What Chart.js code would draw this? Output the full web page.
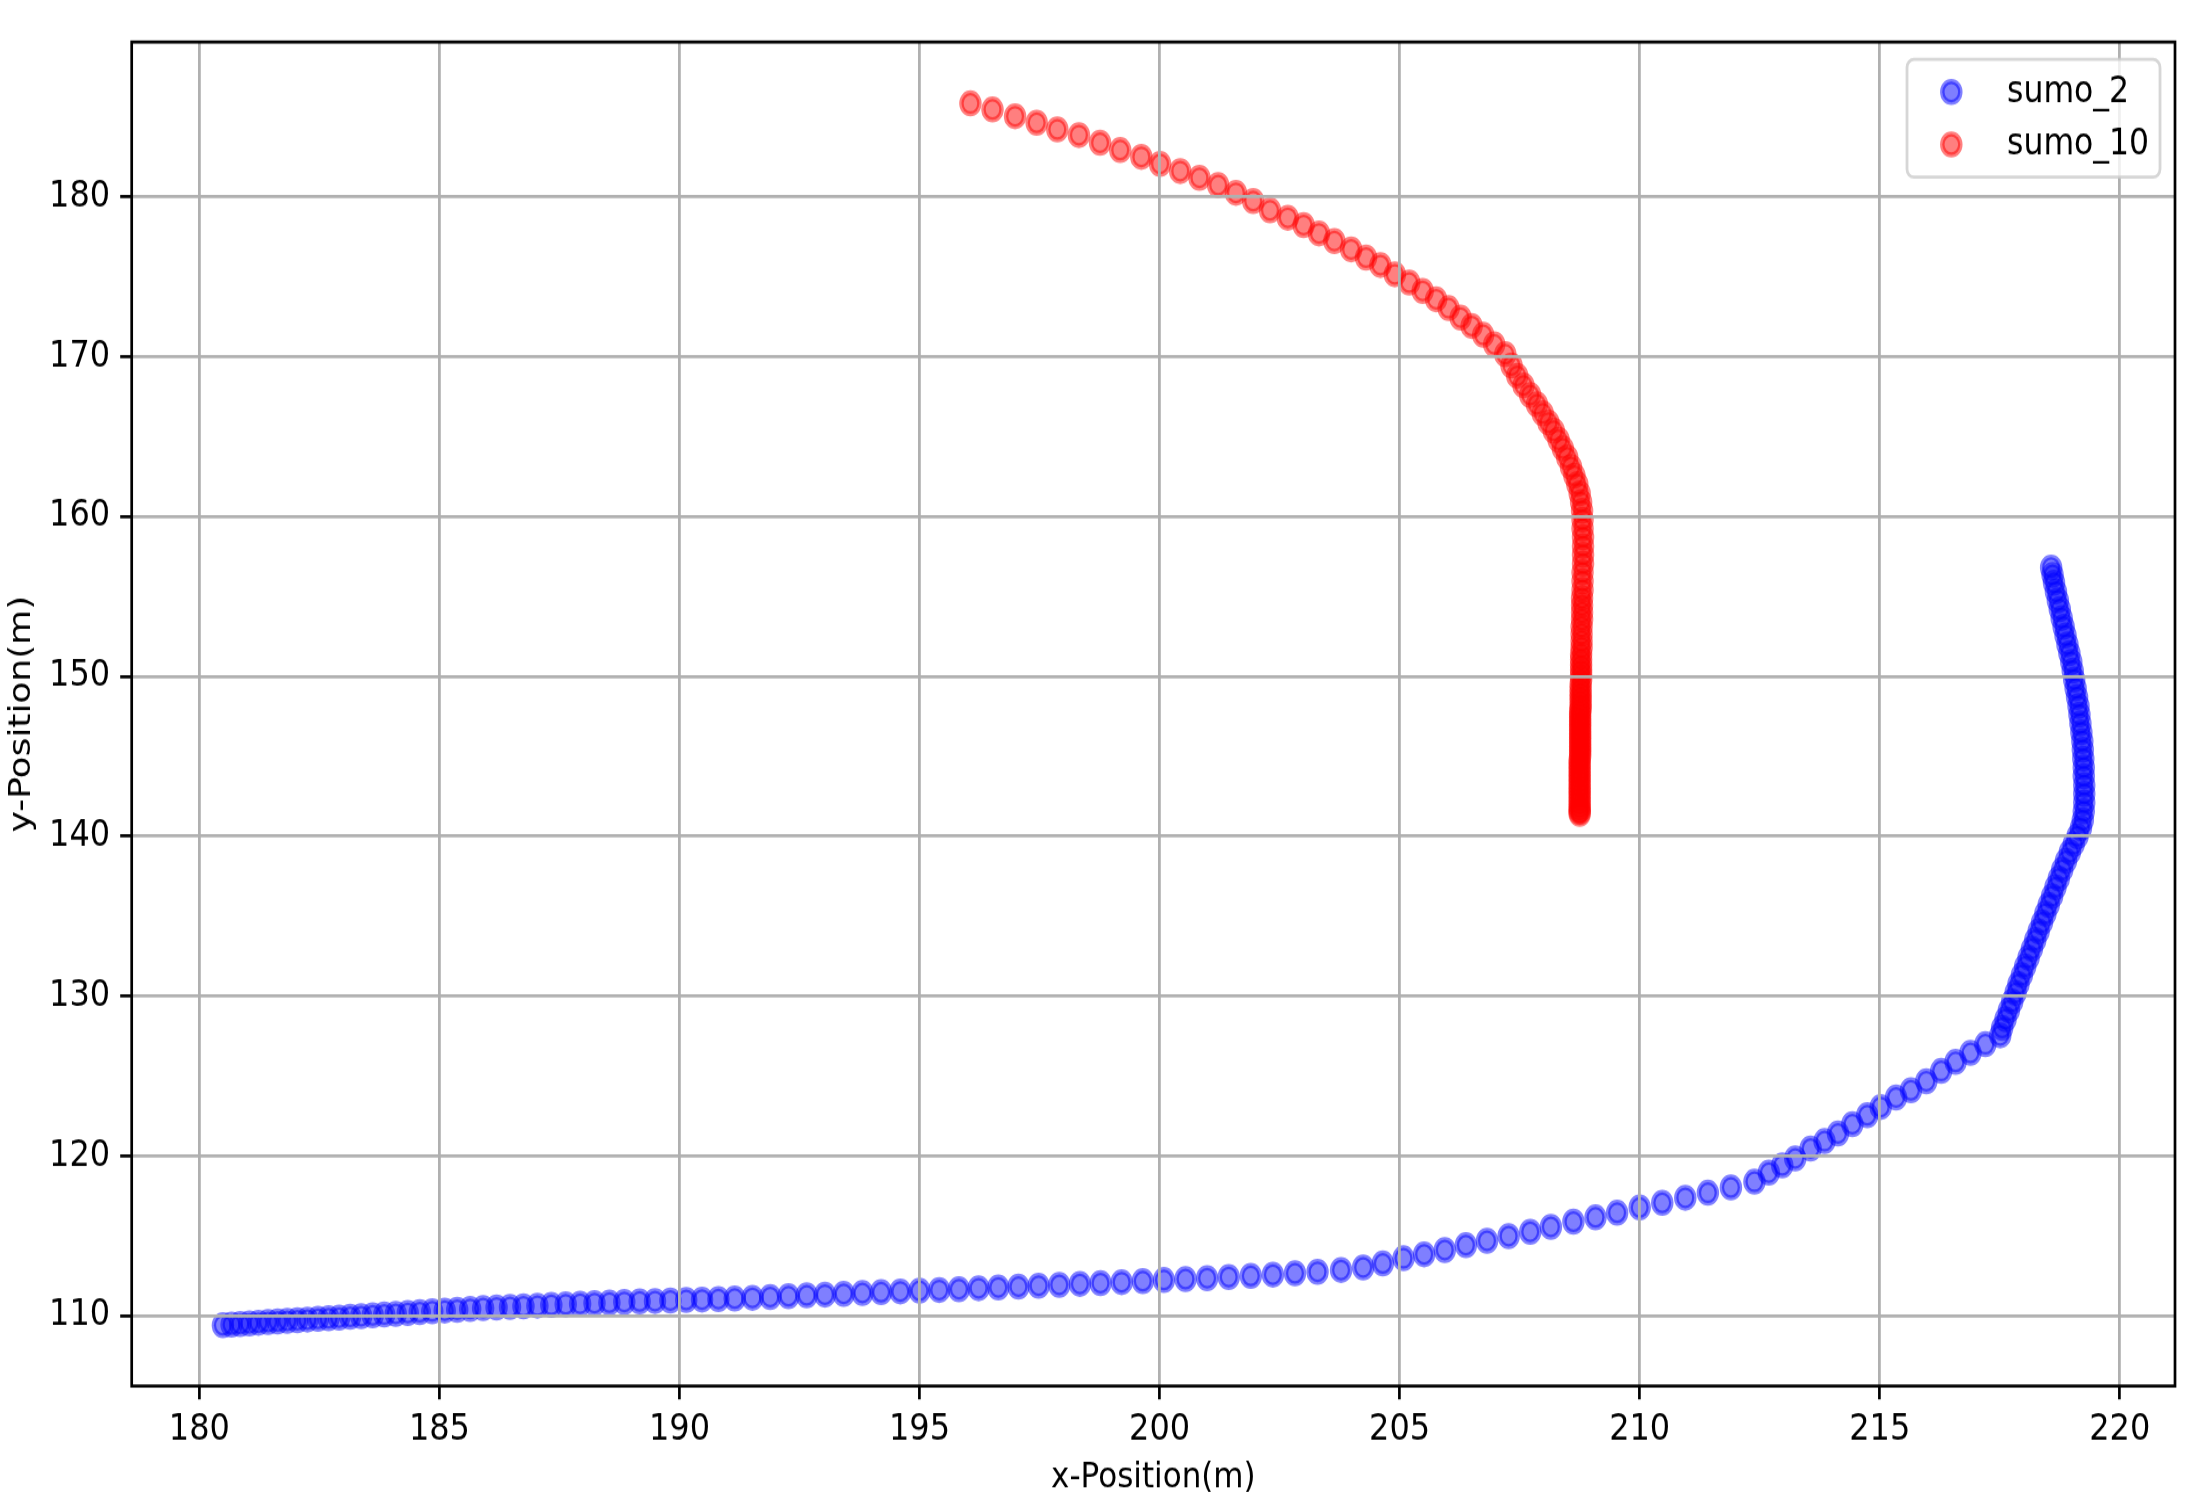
<!DOCTYPE html>
<html>
<head>
<meta charset="utf-8">
<script src="https://cdn.jsdelivr.net/npm/chart.js@4.4.0/dist/chart.umd.min.js"></script>
<style>
  html, body { margin: 0; padding: 0; background: #fff; width: 2190px; height: 1507px; overflow: hidden; }
  /* the reference figure is stretched vertically, so the chart is drawn shorter and scaled up */
  #wrap { width: 2190px; height: 1299px; transform: scaleY(1.16012); transform-origin: 0 0; }
</style>
</head>
<body>
<div id="wrap"><canvas id="myChart"></canvas></div>
<script>
const seriesNames = ['sumo_2', 'sumo_10'];

const sumo2X = [
  180.49, 180.67, 180.85, 181.04, 181.23, 181.43, 181.63, 181.83, 182.04, 182.25,
  182.47, 182.69, 182.91, 183.14, 183.37, 183.61, 183.85, 184.09, 184.34, 184.59,
  184.85, 185.11, 185.37, 185.64, 185.91, 186.19, 186.47, 186.75, 187.04, 187.33,
  187.63, 187.93, 188.23, 188.54, 188.85, 189.17, 189.49, 189.81, 190.14, 190.47,
  190.81, 191.15,
  191.52, 191.89, 192.27, 192.65, 193.03, 193.42, 193.81, 194.20, 194.60, 195.00,
  195.41, 195.82, 196.23, 196.64, 197.06, 197.48, 197.91, 198.34, 198.77, 199.21,
  199.65, 200.09, 200.54, 200.99, 201.44, 201.90, 202.36, 202.82, 203.29,
  203.78, 204.24, 204.65, 205.08, 205.51, 205.94, 206.38, 206.82, 207.27, 207.72,
  208.15, 208.62, 209.08, 209.53, 210.00, 210.47, 210.95, 211.42, 211.90, 212.39,
  212.69, 212.97, 213.24,
  213.56, 213.85, 214.13, 214.43, 214.74, 215.02, 215.34, 215.65, 215.97, 216.28,
  216.58, 216.89, 217.20, 217.51,
  217.55, 217.62, 217.69, 217.76, 217.83, 217.89, 217.96, 218.03, 218.10, 218.17,
  218.24, 218.31, 218.38, 218.45, 218.52, 218.59, 218.66, 218.73, 218.80, 218.88,
  218.96, 219.04, 219.12, 219.19,
  219.23, 219.25, 219.26, 219.26, 219.26, 219.25, 219.25, 219.24, 219.23, 219.22,
  219.20, 219.18, 219.16, 219.14, 219.11, 219.08, 219.05, 219.02, 218.99, 218.95,
  218.91, 218.87, 218.83, 218.79, 218.75, 218.71, 218.67, 218.63, 218.60, 218.57
];
const sumo2Y = [
  109.40, 109.44, 109.48, 109.52, 109.56, 109.60, 109.64, 109.68, 109.72, 109.76,
  109.80, 109.84, 109.88, 109.93, 109.97, 110.02, 110.07, 110.12, 110.17, 110.22,
  110.27, 110.32, 110.37, 110.42, 110.47, 110.51, 110.55, 110.59, 110.63, 110.67,
  110.71, 110.75, 110.79, 110.82, 110.86, 110.89, 110.92, 110.95, 110.98, 111.01,
  111.04, 111.07,
  111.12, 111.17, 111.22, 111.27, 111.32, 111.37, 111.42, 111.47, 111.52, 111.56,
  111.61, 111.66, 111.72, 111.77, 111.82, 111.88, 111.93, 111.99, 112.04, 112.10,
  112.16, 112.23, 112.29, 112.35, 112.42, 112.49, 112.57, 112.65, 112.75,
  112.86, 113.02, 113.27, 113.59, 113.84, 114.11, 114.42, 114.69, 114.98, 115.25,
  115.56, 115.88, 116.15, 116.44, 116.77, 117.06, 117.38, 117.69, 118.02, 118.38,
  118.95, 119.40, 119.84,
  120.46, 120.92, 121.40, 121.98, 122.54, 123.06, 123.65, 124.10, 124.67, 125.31,
  125.88, 126.44, 126.98, 127.54,
  128.00, 128.55, 129.10, 129.65, 130.20, 130.75, 131.30, 131.85, 132.40, 132.95,
  133.50, 134.05, 134.60, 135.15, 135.70, 136.25, 136.80, 137.35, 137.90, 138.45,
  139.00, 139.50, 140.00, 140.50,
  141.00, 141.55, 142.10, 142.65, 143.20, 143.75, 144.30, 144.85, 145.40, 145.95,
  146.50, 147.05, 147.60, 148.15, 148.70, 149.25, 149.80, 150.35, 150.90, 151.45,
  152.00, 152.55, 153.10, 153.65, 154.20, 154.75, 155.30, 155.85, 156.35, 156.80
];

const sumo10X = [
  196.06, 196.52, 196.99, 197.44, 197.87, 198.32, 198.76, 199.18, 199.62, 200.01,
  200.43, 200.83, 201.22, 201.59, 201.95, 202.30, 202.67, 203.00, 203.32, 203.64,
  203.99, 204.30, 204.60, 204.90, 205.20, 205.48, 205.76, 206.02, 206.27, 206.50,
  206.74, 206.97, 207.20,
  207.33, 207.45, 207.58, 207.72, 207.86, 207.98, 208.10, 208.21, 208.31, 208.40,
  208.49, 208.57, 208.64, 208.70, 208.75, 208.78, 208.80,
  208.81, 208.81, 208.82, 208.82, 208.82, 208.82, 208.81, 208.81, 208.81, 208.80,
  208.80, 208.80, 208.80, 208.79, 208.79, 208.79, 208.79, 208.78, 208.78, 208.78,
  208.78, 208.78, 208.78, 208.77, 208.77, 208.77, 208.77, 208.77, 208.77, 208.77,
  208.76, 208.76, 208.76, 208.76, 208.76, 208.76, 208.76, 208.76, 208.76, 208.76,
  208.76, 208.76, 208.76, 208.76, 208.76, 208.75, 208.75, 208.75, 208.75, 208.75,
  208.75, 208.75, 208.75, 208.75, 208.75, 208.75, 208.75, 208.75, 208.75, 208.75,
  208.75, 208.75, 208.75, 208.75
];
const sumo10Y = [
  185.84, 185.46, 185.04, 184.63, 184.21, 183.86, 183.38, 182.92, 182.50, 182.06,
  181.61, 181.19, 180.73, 180.25, 179.73, 179.15, 178.69, 178.23, 177.71, 177.23,
  176.71, 176.19, 175.73, 175.15, 174.63, 174.11, 173.59, 173.03, 172.44, 171.92,
  171.36, 170.77, 170.15,
  169.45, 168.80, 168.20, 167.60, 167.02, 166.45, 165.88, 165.36, 164.80, 164.25,
  163.69, 163.10, 162.55, 162.02, 161.45, 160.90, 160.36,
  159.80, 159.25, 158.70, 158.15, 157.60, 157.05, 156.50, 155.95, 155.40, 154.90,
  154.45, 154.00, 153.55, 153.10, 152.65, 152.20, 151.80, 151.40, 151.05, 150.70,
  150.40, 150.10, 149.80, 149.50, 149.20, 148.95, 148.70, 148.45, 148.20, 148.00,
  147.80, 147.60, 147.40, 147.20, 147.00, 146.80, 146.60, 146.40, 146.20, 146.00,
  145.80, 145.60, 145.40, 145.20, 145.00, 144.80, 144.60, 144.40, 144.20, 144.00,
  143.80, 143.60, 143.40, 143.20, 143.00, 142.80, 142.60, 142.40, 142.20, 142.00,
  141.80, 141.65, 141.50, 141.40
];

const xTicks = [180, 185, 190, 195, 200, 205, 210, 215, 220];
const yTicks = [110, 120, 130, 140, 150, 160, 170, 180];

Chart.defaults.font.family = "'DejaVu Sans'";
Chart.defaults.font.size = 32;
Chart.defaults.color = '#000';

// matplotlib-like frame around the plot area
const axesFrame = {
  id: 'axesFrame',
  afterDraw(chart) {
    const { ctx, chartArea: a } = chart;
    ctx.save();
    ctx.lineWidth = 2.7;
    ctx.strokeStyle = '#000';
    ctx.strokeRect(a.left, a.top, a.right - a.left, a.bottom - a.top);
    ctx.restore();
  }
};

// legend box in the upper right corner of the plot area
const boxLegend = {
  id: 'boxLegend',
  afterDraw(chart) {
    const { ctx, chartArea: a } = chart;
    const w = 253, h = 101.5;
    const left = a.right - 15 - w, top = a.top + 15;
    ctx.save();
    ctx.beginPath();
    ctx.roundRect(left, top, w, h, 7);
    ctx.fillStyle = 'rgba(255,255,255,0.8)';
    ctx.fill();
    ctx.lineWidth = 2.8;
    ctx.strokeStyle = 'rgba(204,204,204,0.8)';
    ctx.stroke();
    chart.data.datasets.forEach((ds, i) => {
      const cy = top + 28 + i * 45.35;
      ctx.beginPath();
      ctx.arc(left + 44.3, cy, ds.pointRadius, 0, Math.PI * 2);
      ctx.fillStyle = ds.pointBackgroundColor;
      ctx.fill();
      ctx.lineWidth = ds.pointBorderWidth;
      ctx.strokeStyle = ds.pointBorderColor;
      ctx.stroke();
      ctx.fillStyle = '#000';
      ctx.font = "31.5px 'DejaVu Sans'";
      ctx.textBaseline = 'alphabetic';
      ctx.textAlign = 'left';
      ctx.fillText(ds.label, left + 100, cy + 8.7);
    });
    ctx.restore();
  }
};

const gridStyle = {
  color: '#b0b0b0',
  lineWidth: 2.8,
  tickColor: '#000',
  tickWidth: 2.7,
  tickLength: 11.5,
  z: 1
};

new Chart(document.getElementById('myChart').getContext('2d'), {
  type: 'scatter',
  data: {
    datasets: [{
      label: seriesNames[0],
      data: sumo2X.map((x, i) => ({ x: x, y: sumo2Y[i] })),
      pointRadius: 9,
      pointBorderWidth: 4.5,
      pointBackgroundColor: 'rgba(0,0,255,0.5)',
      pointBorderColor: 'rgba(0,0,255,0.5)'
    }, {
      label: seriesNames[1],
      data: sumo10X.map((x, i) => ({ x: x, y: sumo10Y[i] })),
      pointRadius: 9,
      pointBorderWidth: 4.5,
      pointBackgroundColor: 'rgba(255,0,0,0.5)',
      pointBorderColor: 'rgba(255,0,0,0.5)'
    }]
  },
  options: {
    responsive: true,
    maintainAspectRatio: false,
    animation: false,
    events: [],
    layout: { padding: { top: 36.2, right: 15, left: 0, bottom: 0 } },
    plugins: {
      legend: { display: false },
      tooltip: { enabled: false }
    },
    scales: {
      x: {
        type: 'linear',
        min: 178.59,
        max: 221.15,
        afterBuildTicks: (scale) => { scale.ticks = xTicks.map(v => ({ value: v })); },
        afterFit: (scale) => { scale.height = 104.3; },
        ticks: { padding: 6.8, maxRotation: 0, includeBounds: false, font: { lineHeight: 1.2 } },
        grid: gridStyle,
        border: { display: false },
        title: { display: true, text: 'x-Position(m)', padding: { top: 0, bottom: 6.6 }, font: { size: 31, lineHeight: 1.2 } }
      },
      y: {
        type: 'linear',
        min: 105.6,
        max: 189.68,
        afterBuildTicks: (scale) => { scale.ticks = yTicks.map(v => ({ value: v })); },
        afterFit: (scale) => { scale.width = 131.7; },
        ticks: { padding: 10, includeBounds: false, font: { lineHeight: 1.2 } },
        grid: gridStyle,
        border: { display: false },
        title: { display: true, text: 'y-Position(m)', padding: { top: 3.2, bottom: 0 }, font: { size: 31, lineHeight: 1.2 } }
      }
    }
  },
  plugins: [axesFrame, boxLegend]
});
</script>
</body>
</html>
